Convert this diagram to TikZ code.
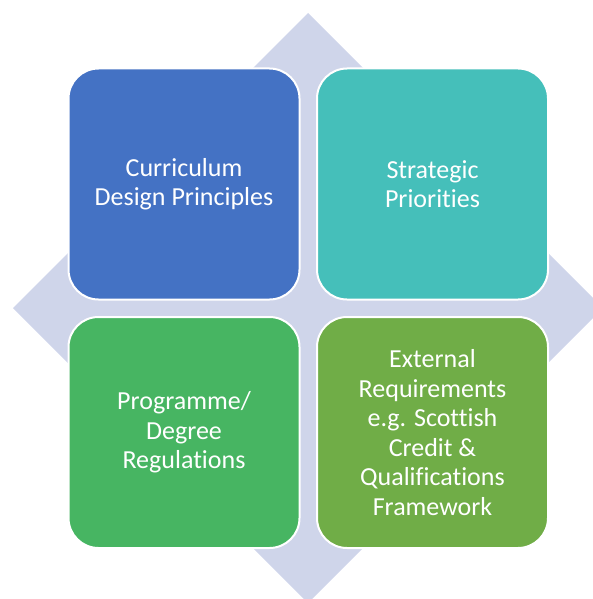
\documentclass[tikz,border=0pt]{standalone}
\usepackage{fontspec}
\setmainfont{Carlito}[Ligatures=NoCommon]
\usepackage{xcolor}
\usepackage{tikz}
\usetikzlibrary{positioning, calc}
\definecolor{diamondbg}{RGB}{207, 213, 234}
\definecolor{quadblue}{RGB}{68, 114, 196}
\definecolor{quadteal}{RGB}{69, 191, 186}
\definecolor{quadgreen}{RGB}{71, 181, 98}
\definecolor{quadolive}{RGB}{112, 173, 71}

\begin{document}
\begin{tikzpicture}[
    x=1pt, y=-1pt,
    quad/.style={rectangle, rounded corners=30pt, draw=white,
                 line width=2pt, minimum width=231pt, minimum height=231pt,
                 text=white, align=center,
                 font=\fontsize{26}{29.5}\selectfont},
  ]

  % Frame
  \useasboundingbox (0,0) rectangle (593,599);
  \clip (0,0) rectangle (593,599);

  % Background diamond
  \fill[diamondbg] (308,13) -- (603,308) -- (308,603) -- (13,308) -- cycle;

  % Quadrants
  \node[quad, fill=quadblue]  (design)   at (184,184)   {Curriculum\\Design Principles};
  \node[quad, fill=quadteal]  (strategy) at (432.5,184) {Strategic\\Priorities};
  \node[quad, fill=quadgreen] (regs)     at (184,432.5) {Programme/\\Degree\\Regulations};
  \node[quad, fill=quadolive] (external) at (432.5,432.5)
    {External\\Requirements\\e.g. Scottish\\Credit \&\\Qualifications\\Framework};

\end{tikzpicture}
\end{document}
